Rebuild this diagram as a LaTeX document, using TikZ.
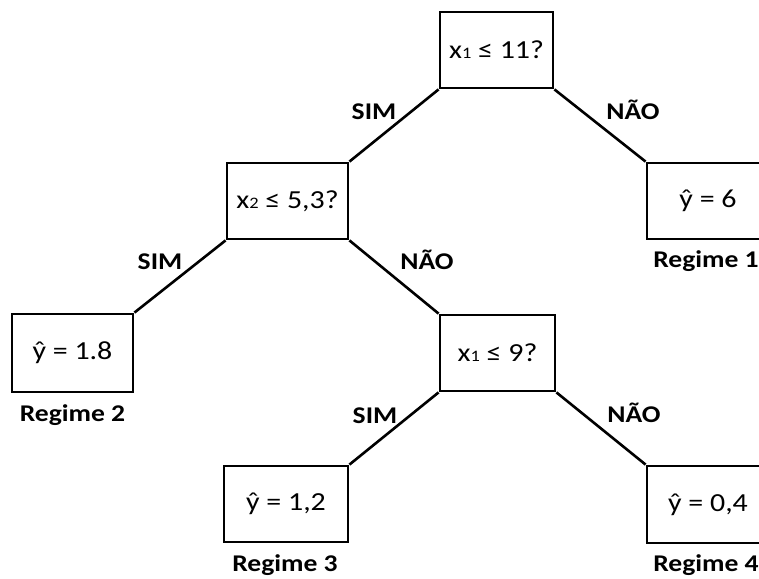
\documentclass[tikz,border=0pt]{standalone}
\usepackage{fontspec}
\setmainfont{Carlito}[FakeStretch=1.15]

\tikzset{
  box/.style={draw, line width=2.8pt, minimum height=76pt, inner sep=0pt,
    font=\fontsize{26}{30}\selectfont},
  branch/.style={line width=2.6pt},
  note/.style={anchor=base, inner sep=0pt, font=\fontsize{24}{28}\selectfont\bfseries},
}
\newcommand{\feat}[1]{x{\fontsize{16}{16}\selectfont #1}}

\begin{document}
\begin{tikzpicture}[x=1pt,y=-1pt]
	\useasboundingbox (0,0) rectangle (759,578);
	% Splits
	\node[box, minimum width=113pt] (root) at (496.5,50) {\feat{1} ≤ 11?};
	\node[box, minimum width=121pt] (split2) at (287.5,201) {\feat{2} ≤ 5,3?};
	\node[box, minimum width=115pt] (split3) at (497.5,353) {\feat{1} ≤ 9?};
	% Leaves
	\node[box, minimum width=122pt] (leaf1) at (708,201) {ŷ = 6};
	\node[box, minimum width=121pt, minimum height=78pt] (leaf2) at (72.5,353) {ŷ = 1.8};
	\node[box, minimum width=124pt] (leaf3) at (286,504) {ŷ = 1,2};
	\node[box, minimum width=122pt, minimum height=77pt] (leaf4) at (708,504.5) {ŷ = 0,4};
	% Regimes
	\node[note] (reg1) at (706,267) {Regime 1};
	\node[note] (reg2) at (72.5,421) {Regime 2};
	\node[note] (reg3) at (285,571) {Regime 3};
	\node[note] (reg4) at (706,571) {Regime 4};
	% Branches
	\draw[branch] (root.south west) -- (split2.north east);
	\draw[branch] (root.south east) -- (leaf1.north west);
	\draw[branch] (split2.south west) -- (leaf2.north east);
	\draw[branch] (split2.south east) -- (split3.north west);
	\draw[branch] (split3.south west) -- (leaf3.north east);
	\draw[branch] (split3.south east) -- (leaf4.north west);
	% Answers
	\node[note] (yes1) at (374,119) {SIM};
	\node[note] (no1) at (633,119) {NÃO};
	\node[note] (yes2) at (160,269) {SIM};
	\node[note] (no2) at (427,269) {NÃO};
	\node[note] (yes3) at (375,423) {SIM};
	\node[note] (no3) at (634,422) {NÃO};
\end{tikzpicture}
\end{document}
